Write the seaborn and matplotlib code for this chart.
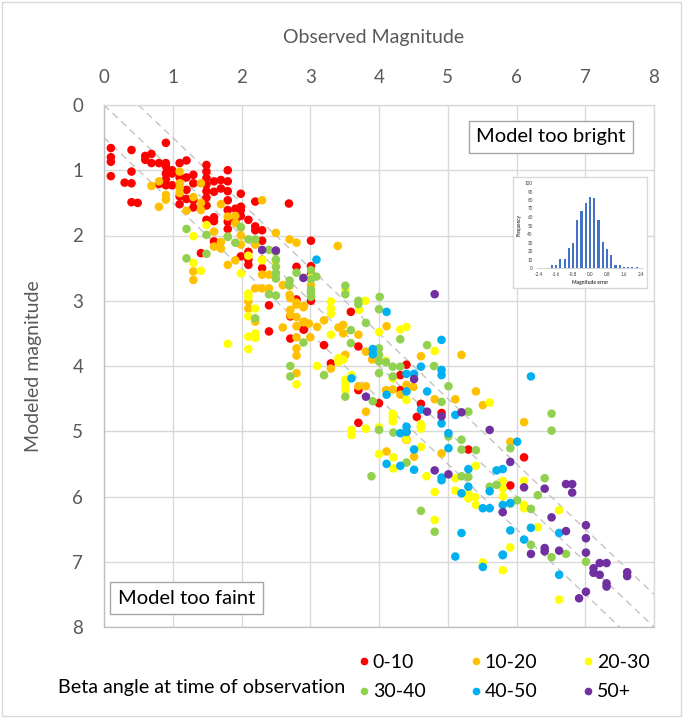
import numpy as np
import pandas as pd
import matplotlib
matplotlib.use("Agg")
import matplotlib.pyplot as plt
from matplotlib.lines import Line2D
from matplotlib.patches import Rectangle
import seaborn as sns

# ---------------- data ----------------
BETA_BINS = ["0-10", "10-20", "20-30", "30-40", "40-50", "50+"]
BETA_COLORS = ["#FF0000", "#FFC000", "#FFFF00", "#92D050", "#00B0F0", "#7030A0"]

red_obs = [0.10, 0.10, 0.10, 0.10, 0.40, 0.40, 0.30, 0.40, 0.40, 0.49, 0.60, 0.60, 0.69, 0.69, 0.80,
           0.90, 0.90, 0.90, 0.90, 0.90, 0.90, 0.80, 0.99, 0.99, 0.99, 1.10, 1.10, 1.10, 1.10, 1.20,
           1.20, 1.20, 1.20, 1.30, 1.30, 1.30, 1.30, 1.49, 1.49, 1.49, 1.49, 1.49, 1.49, 1.49, 1.49,
           1.60, 1.60, 1.60, 1.60, 1.70, 1.70, 1.80, 1.80, 1.80, 1.80, 1.80, 1.80, 1.80, 1.91, 1.91,
           1.99, 1.99, 1.99, 1.99, 1.99, 2.10, 2.20, 2.20, 2.20, 2.30, 2.30, 2.30, 1.41, 1.60, 2.10,
           2.10, 2.10, 2.69, 3.01, 2.80, 3.01, 3.01, 2.80, 3.01, 2.91, 3.20, 3.59, 3.70, 3.30, 4.40,
           4.31, 3.70, 4.00, 4.61, 4.31, 4.91, 4.55, 3.70, 4.40, 4.40, 5.30, 6.11, 5.91, 2.40, 2.71,
           2.40, 2.71, 2.90]
red_mod = [0.66, 0.80, 0.87, 1.09, 0.69, 1.02, 1.19, 1.20, 1.49, 1.50, 0.78, 0.84, 0.75, 0.89, 0.89,
           0.58, 0.89, 0.94, 1.05, 1.14, 1.23, 1.21, 1.00, 1.05, 1.23, 0.89, 1.11, 1.40, 1.52, 0.85,
           1.11, 1.30, 1.44, 1.07, 1.20, 1.46, 1.57, 0.92, 1.02, 1.12, 1.22, 1.32, 1.42, 1.54, 1.76,
           1.17, 1.33, 1.72, 1.78, 1.15, 1.28, 1.00, 1.17, 1.32, 1.46, 1.61, 1.79, 1.90, 1.59, 1.78,
           1.36, 1.56, 1.61, 1.70, 2.32, 1.76, 1.48, 1.86, 1.92, 1.92, 2.08, 2.50, 2.27, 2.09, 2.25,
           2.37, 2.45, 1.51, 2.08, 2.48, 2.47, 2.60, 2.98, 3.00, 3.44, 3.68, 3.17, 3.70, 3.96, 3.98,
           4.14, 4.37, 4.57, 4.58, 4.37, 4.72, 4.78, 4.87, 5.01, 5.13, 5.28, 5.40, 5.83, 3.07, 3.24,
           3.47, 3.58, 3.44]

orange_obs = [1.10, 0.80, 0.69, 0.80, 0.90, 0.90, 1.10, 1.10, 1.10, 1.20, 1.41, 1.30, 1.41, 1.41, 1.70,
              1.80, 1.91, 1.91, 2.30, 1.60, 1.60, 1.70, 1.70, 1.80, 1.80, 1.91, 1.99, 1.99, 1.99, 2.20,
              2.30, 2.30, 2.40, 2.50, 2.60, 2.20, 2.30, 2.40, 1.30, 1.30, 2.70, 2.80, 3.40, 2.70, 2.70,
              3.01, 2.80, 2.10, 2.10, 2.20, 2.60, 2.71, 2.71, 2.80, 2.80, 2.80, 2.80, 2.80, 2.80, 2.90,
              2.90, 2.80, 2.71, 2.91, 2.91, 2.98, 3.10, 3.20, 3.41, 3.48, 3.48, 3.70, 3.00, 3.30, 3.81,
              3.90, 3.51, 3.70, 3.81, 3.81, 4.10, 4.20, 4.31, 4.40, 4.50, 4.11, 4.61, 4.81, 5.11, 5.20,
              5.41, 5.51, 4.11, 4.51, 4.61, 4.91, 6.11, 5.91]
orange_mod = [1.02, 1.17, 1.24, 1.56, 1.38, 1.45, 1.20, 1.27, 1.35, 1.62, 1.20, 1.41, 1.50, 1.61, 1.52,
              1.71, 1.70, 1.81, 1.46, 1.94, 2.17, 2.10, 2.20, 2.02, 2.45, 2.38, 1.88, 2.00, 2.14, 2.14,
              2.37, 2.60, 2.60, 1.96, 2.76, 2.81, 2.81, 2.81, 2.55, 2.68, 2.06, 2.11, 2.16, 2.77, 2.91,
              2.76, 3.03, 3.01, 3.12, 3.32, 3.41, 3.14, 3.22, 3.06, 3.25, 3.39, 3.56, 3.73, 3.84, 3.10,
              3.33, 4.11, 2.96, 3.08, 3.32, 3.35, 3.40, 3.30, 3.41, 3.37, 3.50, 3.52, 3.56, 4.04, 3.78,
              3.90, 3.83, 4.31, 4.31, 4.70, 4.37, 4.36, 4.44, 4.29, 4.32, 3.39, 3.85, 4.51, 4.51, 3.83,
              4.39, 4.60, 5.31, 5.39, 4.93, 5.34, 4.86, 5.16]

yellow_obs = [1.49, 1.30, 1.30, 1.41, 1.99, 2.10, 2.10, 2.30, 2.50, 2.50, 1.80, 2.10, 2.20, 2.10, 2.10,
              2.20, 2.20, 2.10, 2.80, 3.01, 3.51, 3.80, 3.30, 3.30, 3.30, 3.30, 3.71, 4.00, 4.31, 4.40,
              3.41, 3.41, 3.48, 3.10, 3.51, 3.51, 3.51, 3.60, 4.20, 4.10, 4.81, 4.20, 4.20, 4.20, 3.60,
              3.60, 3.81, 4.00, 4.40, 4.61, 4.61, 4.61, 4.00, 4.21, 4.21, 4.69, 4.81, 5.11, 5.11, 5.30,
              5.30, 5.41, 5.61, 5.80, 6.11, 5.80, 5.80, 6.11, 6.11, 6.62, 6.31, 5.91, 5.80, 6.62, 4.81,
              5.51, 5.30, 5.40, 5.41, 4.40]
yellow_mod = [1.84, 2.01, 2.42, 2.54, 2.58, 2.31, 2.89, 2.38, 2.40, 2.60, 3.66, 2.94, 3.12, 3.24, 3.55,
              3.50, 3.57, 3.74, 4.28, 2.64, 2.83, 3.00, 3.01, 3.12, 3.20, 3.52, 3.14, 3.48, 3.44, 3.40,
              3.88, 3.94, 3.90, 4.00, 4.21, 4.29, 4.37, 4.14, 4.19, 3.92, 3.77, 4.73, 4.79, 4.85, 4.98,
              5.06, 4.96, 4.94, 4.52, 4.89, 4.96, 5.24, 5.35, 5.40, 5.57, 5.69, 5.93, 5.72, 5.91, 5.95,
              6.03, 5.53, 4.56, 5.76, 5.76, 5.88, 6.00, 6.13, 6.18, 6.21, 6.47, 6.78, 7.13, 7.58, 6.36,
              7.01, 6.01, 6.01, 6.13, 5.13]

green_obs = [1.20, 1.20, 1.49, 1.49, 1.80, 1.91, 2.10, 2.20, 1.99, 2.40, 2.50, 2.50, 2.50, 2.50, 2.50,
             2.40, 2.50, 2.69, 2.20, 2.90, 2.71, 2.71, 2.80, 2.70, 3.01, 3.01, 3.01, 3.01, 3.01, 3.09,
             3.51, 3.51, 3.70, 4.01, 3.20, 3.51, 3.59, 3.59, 3.70, 3.81, 4.00, 4.00, 4.00, 4.00, 4.10,
             4.00, 4.20, 4.31, 4.20, 3.91, 4.00, 4.21, 4.31, 4.40, 4.70, 4.80, 4.91, 5.01, 5.01, 5.20,
             5.20, 5.30, 5.41, 5.20, 5.30, 5.61, 5.71, 3.89, 5.91, 6.41, 6.31, 6.01, 5.91, 6.21, 6.21,
             6.51, 6.72, 7.01, 4.61, 4.81, 6.51, 6.51]
green_mod = [1.90, 2.35, 1.99, 2.28, 2.02, 2.11, 2.06, 2.06, 1.87, 2.22, 2.25, 2.37, 2.48, 2.58, 2.66,
             2.90, 2.92, 2.76, 3.27, 3.64, 4.00, 4.16, 2.57, 2.69, 2.53, 2.67, 2.83, 2.88, 2.94, 2.63,
             2.77, 2.90, 3.00, 2.94, 4.14, 4.47, 3.45, 3.65, 3.05, 3.34, 3.13, 3.73, 3.83, 3.93, 3.94,
             4.11, 4.01, 4.01, 4.16, 4.54, 4.98, 5.02, 3.59, 5.48, 3.68, 4.00, 4.55, 4.31, 5.08, 5.13,
             5.28, 4.70, 5.29, 5.69, 5.70, 5.85, 5.82, 5.69, 5.26, 5.72, 5.98, 6.06, 6.11, 6.19, 6.74,
             6.93, 6.88, 7.00, 6.22, 6.54, 4.73, 4.99]

blue_obs = [3.09, 4.11, 4.91, 3.91, 3.91, 3.60, 4.40, 4.51, 4.61, 4.91, 4.91, 4.40, 4.11, 4.70, 4.61,
            4.91, 5.11, 4.40, 4.40, 4.31, 5.01, 5.01, 4.51, 4.51, 4.11, 4.31, 4.91, 4.91, 5.30, 5.30,
            5.20, 5.61, 5.71, 6.01, 5.80, 5.80, 5.91, 5.91, 6.21, 6.11, 6.62, 5.80, 6.62, 5.20, 5.11,
            5.51, 5.80, 5.51, 5.61, 6.21]
blue_mod = [2.37, 3.17, 3.60, 3.74, 3.82, 4.19, 4.12, 4.12, 4.01, 4.06, 4.14, 4.39, 4.44, 4.39, 4.67,
            4.88, 4.75, 4.93, 5.01, 5.03, 5.03, 5.26, 5.28, 5.59, 5.50, 5.53, 5.71, 5.75, 5.58, 5.85,
            5.95, 5.92, 5.60, 5.16, 5.58, 6.13, 6.10, 6.52, 6.48, 6.66, 6.56, 6.89, 7.20, 6.56, 6.92,
            7.08, 6.90, 6.18, 6.18, 4.16]

purple_obs = [2.30, 2.50, 2.90, 4.81, 4.51, 3.81, 4.70, 4.91, 5.20, 5.61, 4.81, 5.01, 5.91, 6.11, 6.41,
              6.72, 6.81, 6.81, 5.80, 6.51, 6.72, 6.41, 6.41, 6.21, 6.62, 7.01, 7.01, 7.01, 7.12, 7.12,
              7.21, 7.31, 7.21, 7.31, 7.31, 7.61, 7.61, 7.01, 6.91]
purple_mod = [2.22, 2.23, 2.65, 2.90, 4.20, 4.47, 4.70, 4.77, 4.71, 4.98, 5.60, 5.66, 5.47, 5.86, 5.88,
              5.81, 5.81, 5.94, 6.24, 6.32, 6.53, 6.79, 6.84, 6.88, 6.83, 6.44, 6.64, 6.86, 7.10, 7.17,
              7.02, 7.02, 7.20, 7.33, 7.38, 7.16, 7.22, 7.46, 7.56]

# magnitude-error histogram (bin centres and counts)
err_bins = [-2.4, -2.2, -2.0, -1.8, -1.6, -1.4, -1.2, -1.0, -0.8, -0.6, -0.4, -0.2, 0.0,
            0.2, 0.4, 0.6, 0.8, 1.0, 1.2, 1.4, 1.6, 1.8, 2.0, 2.2, 2.4]
err_counts = [0, 0, 0, 3, 4, 11, 11, 23, 30, 57, 67, 76, 83, 82, 56, 31, 22, 15, 4, 4, 1, 1, 1, 1, 0]
err_tick_labels = ["-2.4", "-1.6", "-0.8", "0.0", "0.8", "1.6", "2.4"]

# reference lines: modeled = observed + offset
DIAG_OFFSETS = [-0.5, 0.0, 0.5]
AXIS_TICKS = list(range(0, 9))

series = [(red_obs, red_mod), (orange_obs, orange_mod), (yellow_obs, yellow_mod),
          (green_obs, green_mod), (blue_obs, blue_mod), (purple_obs, purple_mod)]
frames = []
for label, (xo, ym) in zip(BETA_BINS, series):
    frames.append(pd.DataFrame({"observed": xo, "modeled": ym, "beta": label}))
df = pd.concat(frames, ignore_index=True)

# ---------------- figure ----------------
sns.set_theme(style="white")
plt.rcParams["font.family"] = ["Lato", "DejaVu Sans"]

W, H = 684, 719
fig = plt.figure(figsize=(W / 100, H / 100), dpi=100)
fig.patch.set_facecolor("white")

def fx(px):
    return px / W

def fy(py):
    return 1 - py / H

ax = fig.add_axes([fx(104), fy(627), fx(654) - fx(104), fy(105) - fy(627)])

GRID = "#d9d9d9"
TXT = "#595959"

# dashed reference diagonals
for off in DIAG_OFFSETS:
    xs = np.array([max(0, -off), min(8, 8 - off)])
    ax.plot(xs, xs + off, ls=(0, (5, 3.5)), color="#c4c4c4", lw=1, zorder=1.5)

sns.scatterplot(data=df, x="observed", y="modeled", hue="beta", hue_order=BETA_BINS,
                palette=BETA_COLORS, s=38, linewidth=0, alpha=1, legend=False, ax=ax, zorder=3)

ax.set_xlim(0, 8)
ax.set_ylim(8, 0)
ax.set_xticks(AXIS_TICKS)
ax.set_yticks(AXIS_TICKS)
ax.xaxis.tick_top()
ax.tick_params(axis="both", length=0, labelsize=13.5, labelcolor=TXT)
ax.tick_params(axis="x", pad=14)
ax.tick_params(axis="y", pad=15)
ax.set_xlabel("")
ax.set_ylabel("")
ax.grid(True, color=GRID, lw=1)
ax.set_axisbelow(True)
for side in ["top", "right"]:
    ax.spines[side].set_color(GRID)
for side in ["left", "bottom"]:
    ax.spines[side].set_color("#bfbfbf")
for sp in ax.spines.values():
    sp.set_linewidth(1)

fig.text(fx(374), fy(38), "Observed Magnitude", ha="center", va="center", fontsize=14, color=TXT)
fig.text(fx(34), fy(366), "Modeled magnitude", ha="center", va="center", rotation=90,
         fontsize=14, color=TXT)

box_kw = dict(boxstyle="square,pad=0.38", fc="white", ec="#a6a6a6", lw=1)
ax.text(6.5, 0.49, "Model too bright", ha="center", va="center", fontsize=14.5,
        color="black", bbox=box_kw, zorder=5)
ax.text(1.2, 7.56, "Model too faint", ha="center", va="center", fontsize=14.5,
        color="black", bbox=box_kw, zorder=5)

# ---------------- inset histogram ----------------
frame_ax = fig.add_axes([fx(513), fy(288), fx(647) - fx(513), fy(177) - fy(288)])
frame_ax.set_xticks([])
frame_ax.set_yticks([])
frame_ax.set_facecolor("white")
for sp in frame_ax.spines.values():
    sp.set_color(GRID)
    sp.set_linewidth(1)

hax = fig.add_axes([fx(537), fy(268), fx(643) - fx(537), fy(183) - fy(268)])
hax.bar(err_bins, err_counts, width=0.1, color="#4472C4", linewidth=0)
hax.set_xlim(-2.5, 2.5)
hax.set_ylim(0, 100)
hax.set_yticks(range(0, 101, 10))
hax.set_xticks([float(t) for t in err_tick_labels])
hax.set_xticklabels(err_tick_labels)
hax.tick_params(axis="both", labelsize=3.3, labelcolor="#404040", length=1.5, width=0.4,
                color="#bfbfbf", pad=1.5)
hax.set_facecolor("none")
for side in ["top", "right", "left"]:
    hax.spines[side].set_visible(False)
hax.spines["bottom"].set_color("#bfbfbf")
hax.spines["bottom"].set_linewidth(0.5)
hax.set_ylabel("Frequency", fontsize=3.3, fontweight="bold", color="#404040", labelpad=2)
hax.set_xlabel("Magnitude error", fontsize=3.6, fontweight="bold", color="#404040", labelpad=2)

# ---------------- legend ----------------
fig.text(fx(58), fy(687), "Beta angle at time of observation", ha="left", va="center",
         fontsize=14.2, color="black")
handles = [Line2D([], [], marker="o", ls="", color=c, markersize=4.5) for c in BETA_COLORS]
order = [0, 3, 1, 4, 2, 5]
fig.legend([handles[i] for i in order], [BETA_BINS[i] for i in order], ncol=3,
           loc="center left", bbox_to_anchor=(fx(360), fy(677)), frameon=False,
           fontsize=14, handlelength=0.45, handletextpad=0.2, columnspacing=2.4,
           labelspacing=0.65, borderpad=0, borderaxespad=0, labelcolor="black")

# outer chart border
fig.patches.append(Rectangle((fx(2), fy(716)), fx(681) - fx(2), fy(2) - fy(716),
                             transform=fig.transFigure, fill=False, ec=GRID, lw=1))

fig.savefig("out.png", dpi=100, facecolor="white")
